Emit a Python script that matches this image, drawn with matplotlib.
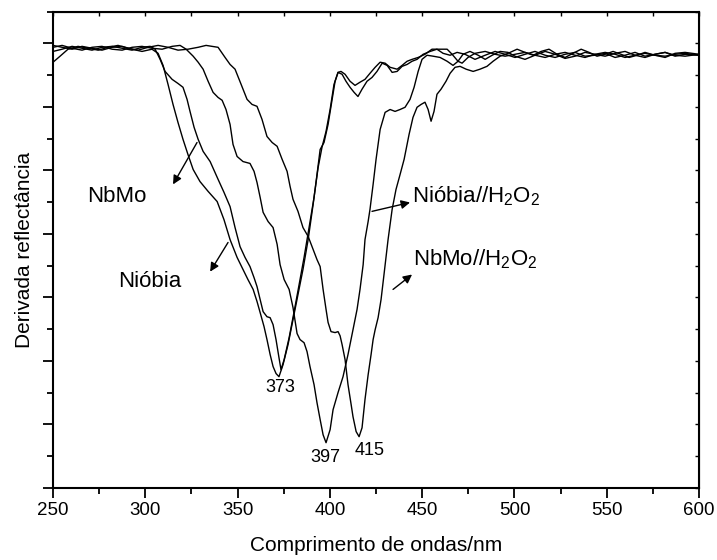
import matplotlib
matplotlib.use("Agg")
import matplotlib.pyplot as plt
from matplotlib.ticker import MultipleLocator, NullFormatter

plt.rcParams["font.family"] = ["Liberation Sans", "DejaVu Sans"]
plt.rcParams["mathtext.default"] = "regular"

# first-derivative reflectance spectra (arb. units)
wl_niobia = [250.0, 254.9, 260.3, 265.7, 271.1, 276.5, 282.0, 287.4, 292.8, 298.2,
             303.6, 306.9, 309.6, 312.3, 315.0, 317.7, 320.4, 323.1, 325.9, 329.6,
             334.0, 338.9, 342.6, 345.9, 349.7, 352.9, 355.6, 358.4, 360.5, 362.2,
             364.3, 365.9, 367.6, 369.2, 370.8, 372.4, 374.6, 377.3, 380.0, 382.7,
             385.4, 388.2, 390.9, 393.0, 394.7, 396.8, 399.0, 401.2, 402.8, 404.4,
             406.6, 408.7, 410.9, 413.1, 415.2, 417.4, 420.1, 422.8, 425.5, 428.3,
             431.0, 433.7, 436.4, 439.1, 441.8, 444.5, 447.2, 450.5, 454.3, 458.0,
             461.3, 465.1, 468.9, 473.2, 478.6, 484.1, 489.5, 494.9, 500.3, 505.7,
             511.1, 516.6, 522.0, 527.4, 532.8, 538.2, 543.6, 549.1, 554.5, 559.9,
             565.3, 570.7, 576.1, 581.6, 587.0, 592.4, 600.0]
d_niobia = [13.94, 13.88, 13.82, 13.91, 13.85, 13.79, 13.88, 13.91, 13.82, 13.75,
            13.82, 13.69, 13.31, 12.71, 12.08, 11.51, 10.98, 10.50, 10.03, 9.65,
            9.34, 9.02, 8.45, 7.82, 7.26, 6.88, 6.56, 6.25, 5.87, 5.52,
            5.08, 4.67, 4.20, 3.82, 3.60, 3.50, 3.88, 4.51, 5.30, 6.09,
            6.88, 7.82, 8.93, 9.87, 10.66, 10.88, 11.45, 12.24, 12.81, 13.09,
            13.03, 12.81, 12.62, 12.46, 12.33, 12.56, 12.81, 12.93, 13.12, 13.38,
            13.31, 13.09, 13.12, 13.28, 13.34, 13.44, 13.50, 13.66, 13.75, 13.82,
            13.69, 13.63, 13.72, 13.66, 13.50, 13.63, 13.75, 13.66, 13.56, 13.66,
            13.75, 13.63, 13.56, 13.66, 13.72, 13.60, 13.63, 13.69, 13.56, 13.63,
            13.72, 13.60, 13.66, 13.72, 13.60, 13.66, 13.63]

wl_nbmo = [250.0, 254.9, 260.3, 265.7, 271.1, 276.5, 282.0, 287.4, 292.8, 298.2,
           302.6, 305.3, 308.0, 310.7, 314.5, 317.7, 320.4, 322.6, 324.2, 326.4,
           328.6, 331.3, 335.1, 339.4, 342.6, 345.9, 348.6, 351.3, 354.0, 356.7,
           358.9, 360.5, 362.2, 363.8, 365.9, 367.6, 369.2, 370.8, 372.4, 373.5,
           375.2, 377.9, 380.6, 383.3, 386.0, 388.7, 391.4, 393.6, 395.7, 397.9,
           400.1, 402.2, 404.4, 406.0, 408.2, 410.9, 413.6, 416.3, 419.0, 421.7,
           424.5, 427.2, 429.9, 432.6, 436.4, 439.1, 441.8, 444.5, 447.8, 451.5,
           455.3, 459.7, 463.5, 466.2, 469.4, 471.6, 474.8, 478.6, 484.1, 489.5,
           494.9, 500.3, 505.7, 511.1, 516.6, 522.0, 527.4, 532.8, 538.2, 543.6,
           549.1, 554.5, 559.9, 565.3, 570.7, 576.1, 581.6, 587.0, 592.4, 600.0]
d_nbmo = [13.75, 13.82, 13.91, 13.85, 13.79, 13.88, 13.91, 13.85, 13.79, 13.88,
          13.91, 13.82, 13.50, 13.12, 12.87, 12.74, 12.62, 12.24, 11.86, 11.36,
          10.98, 10.60, 10.28, 9.72, 9.31, 8.86, 8.20, 7.60, 7.26, 6.97,
          6.62, 6.34, 5.93, 5.55, 5.39, 5.36, 5.14, 4.67, 4.10, 3.72,
          4.04, 4.73, 5.55, 6.40, 7.26, 8.20, 9.15, 10.09, 10.73, 11.23,
          11.92, 12.71, 13.09, 13.12, 13.03, 12.81, 12.68, 12.78, 12.87, 13.06,
          13.25, 13.41, 13.38, 13.25, 13.19, 13.31, 13.44, 13.50, 13.56, 13.66,
          13.82, 13.82, 13.82, 13.66, 13.44, 13.38, 13.56, 13.69, 13.75, 13.66,
          13.60, 13.66, 13.72, 13.63, 13.56, 13.66, 13.72, 13.63, 13.56, 13.66,
          13.72, 13.66, 13.56, 13.63, 13.69, 13.63, 13.60, 13.66, 13.69, 13.63]

wl_niobia_h2o2 = [250.0, 254.9, 260.3, 265.7, 271.1, 276.5, 282.0, 287.4, 292.8, 298.2,
                  303.6, 309.1, 314.5, 318.8, 322.1, 325.9, 328.6, 331.3, 334.0, 336.7,
                  339.4, 341.6, 343.7, 345.9, 347.5, 349.7, 352.9, 356.7, 358.9, 360.5,
                  362.2, 363.8, 366.5, 369.2, 371.4, 373.0, 375.2, 377.9, 380.0, 382.2,
                  383.8, 386.0, 387.6, 389.2, 391.4, 393.0, 394.7, 396.3, 397.9, 400.1,
                  401.7, 404.4, 407.1, 409.8, 412.5, 414.7, 416.3, 418.0, 419.0, 420.7,
                  421.7, 423.4, 425.0, 427.2, 429.9, 432.6, 435.3, 438.0, 440.7, 443.4,
                  445.6, 447.8, 449.9, 452.6, 455.9, 459.7, 463.5, 466.7, 469.4, 472.1,
                  475.9, 480.3, 484.1, 487.9, 492.2, 496.5, 500.3, 505.7, 511.1, 516.6,
                  522.0, 527.4, 532.8, 538.2, 543.6, 549.1, 554.5, 559.9, 565.3, 570.7,
                  576.1, 581.6, 587.0, 592.4, 600.0]
d_niobia_h2o2 = [13.88, 13.94, 13.85, 13.79, 13.88, 13.91, 13.82, 13.79, 13.88, 13.91,
                 13.85, 13.82, 13.91, 13.94, 13.82, 13.60, 13.41, 13.19, 12.81, 12.46,
                 12.30, 12.21, 11.92, 11.45, 10.82, 10.44, 10.28, 10.22, 9.97, 9.62,
                 9.15, 8.68, 8.39, 8.20, 7.67, 7.03, 6.56, 6.25, 5.68, 4.86,
                 4.67, 4.57, 4.29, 3.82, 3.25, 2.68, 2.15, 1.67, 1.42, 1.83,
                 2.46, 3.00, 3.50, 4.20, 4.98, 5.62, 6.25, 7.03, 7.82, 8.39,
                 8.77, 9.56, 10.35, 11.29, 11.83, 11.92, 11.86, 11.92, 11.99, 12.24,
                 12.62, 13.12, 13.50, 13.63, 13.60, 13.56, 13.44, 13.31, 13.44, 13.66,
                 13.75, 13.63, 13.50, 13.63, 13.75, 13.72, 13.60, 13.50, 13.63, 13.75,
                 13.66, 13.53, 13.60, 13.72, 13.66, 13.60, 13.69, 13.75, 13.63, 13.56,
                 13.66, 13.72, 13.63, 13.60, 13.66]

wl_nbmo_h2o2 = [250.0, 253.8, 258.1, 263.5, 269.0, 274.4, 279.8, 285.2, 290.6, 296.1,
                301.5, 306.9, 312.3, 317.7, 323.1, 328.6, 332.9, 336.1, 339.4, 343.2,
                345.9, 348.6, 351.9, 355.1, 357.8, 360.5, 363.2, 365.9, 368.7, 371.4,
                374.1, 376.8, 378.4, 380.0, 382.7, 385.4, 388.2, 390.9, 393.0, 394.7,
                396.3, 397.9, 399.0, 400.6, 402.8, 404.4, 405.5, 406.6, 408.2, 409.8,
                411.5, 412.5, 414.2, 415.8, 417.4, 419.0, 420.7, 422.3, 423.4, 424.5,
                426.1, 427.7, 429.3, 431.5, 433.7, 435.8, 438.0, 440.2, 442.9, 445.0,
                447.2, 449.4, 451.5, 453.2, 454.8, 456.4, 458.0, 460.2, 462.9, 465.1,
                467.8, 470.5, 473.8, 477.6, 481.3, 485.1, 488.4, 492.2, 496.5, 501.4,
                505.7, 510.1, 514.4, 518.7, 523.1, 527.4, 531.7, 536.1, 540.4, 544.7,
                549.1, 553.4, 557.7, 562.1, 566.4, 570.7, 576.1, 581.6, 587.0, 592.4,
                600.0]
d_nbmo_h2o2 = [13.41, 13.60, 13.82, 13.91, 13.85, 13.79, 13.88, 13.94, 13.85, 13.79,
               13.88, 13.94, 13.88, 13.79, 13.82, 13.88, 13.94, 13.91, 13.88, 13.56,
               13.34, 13.19, 12.71, 12.24, 12.08, 12.02, 11.61, 11.07, 10.88, 10.76,
               10.35, 9.97, 9.50, 9.09, 8.71, 8.20, 7.92, 7.51, 7.19, 6.97,
               6.25, 5.62, 5.21, 4.92, 4.89, 4.92, 4.79, 4.51, 4.04, 3.25,
               2.62, 2.24, 1.77, 1.61, 1.89, 2.78, 3.56, 4.20, 4.67, 4.98,
               5.36, 5.93, 6.72, 7.82, 8.77, 9.40, 9.87, 10.35, 11.14, 11.67,
               11.99, 12.08, 12.15, 11.92, 11.55, 11.86, 12.40, 12.56, 12.81, 13.06,
               13.25, 13.28, 13.19, 13.12, 13.19, 13.28, 13.44, 13.60, 13.69, 13.82,
               13.72, 13.63, 13.75, 13.82, 13.66, 13.56, 13.69, 13.82, 13.72, 13.60,
               13.66, 13.75, 13.66, 13.56, 13.63, 13.72, 13.63, 13.56, 13.69, 13.72,
               13.66]

# band minima labels
peak_labels = ["373", "397", "415"]
peak_wl = [373.0, 397.4, 421.7]
peak_y = [3.03, 0.82, 1.04]

fig = plt.figure(figsize=(7.17, 5.6), dpi=100)
ax = fig.add_axes([0.074, 0.129, 0.901, 0.850])

for x, y in [(wl_nbmo, d_nbmo), (wl_niobia, d_niobia),
             (wl_niobia_h2o2, d_niobia_h2o2), (wl_nbmo_h2o2, d_nbmo_h2o2)]:
    ax.plot(x, y, color="black", linewidth=1.0)

ax.set_xlim(250, 600)
ax.set_ylim(0, 15)

ax.xaxis.set_major_locator(MultipleLocator(50))
ax.xaxis.set_minor_locator(MultipleLocator(25))
ax.yaxis.set_major_locator(MultipleLocator(2))
ax.yaxis.set_minor_locator(MultipleLocator(1))
ax.yaxis.set_major_formatter(NullFormatter())
ax.tick_params(axis="both", which="major", direction="out", length=7, width=1.3,
               labelsize=13.5)
ax.tick_params(axis="both", which="minor", direction="out", length=4, width=1.3)
for sp in ax.spines.values():
    sp.set_linewidth(1.5)

# small inward ticks on the top and right frames
top = ax.secondary_xaxis("top")
top.xaxis.set_major_locator(MultipleLocator(25))
top.tick_params(direction="in", length=3, width=1.0, labeltop=False)
right = ax.secondary_yaxis("right")
right.yaxis.set_major_locator(MultipleLocator(1))
right.tick_params(direction="in", length=3, width=1.0, labelright=False)

ax.set_xlabel("Comprimento de ondas/nm", fontsize=15, labelpad=12)
ax.set_ylabel("Derivada reflectância", fontsize=15, labelpad=3)

# series labels with arrows
arrow = dict(arrowstyle="-|>", color="black", lw=1.0, mutation_scale=13,
             shrinkA=0, shrinkB=0)
ax.annotate("", xy=(315.0, 9.56), xytext=(328.0, 10.88), arrowprops=arrow)
ax.annotate("", xy=(335.1, 6.81), xytext=(344.8, 7.73), arrowprops=arrow)
ax.annotate("", xy=(443.4, 8.99), xytext=(422.8, 8.71), arrowprops=arrow)
ax.annotate("", xy=(444.5, 6.72), xytext=(434.2, 6.25), arrowprops=arrow)

ax.text(268.4, 8.99, "NbMo", fontsize=16, va="baseline", ha="left")
ax.text(285.2, 6.34, "Nióbia", fontsize=16, va="baseline", ha="left")
ax.text(444.5, 8.99, "Nióbia//H$_2$O$_2$", fontsize=16, va="baseline", ha="left")
ax.text(445.0, 7.00, "NbMo//H$_2$O$_2$", fontsize=16, va="baseline", ha="left")

for lab, x, y in zip(peak_labels, peak_wl, peak_y):
    ax.text(x, y, lab, fontsize=13, ha="center", va="baseline")

fig.savefig("out.png", dpi=100)
